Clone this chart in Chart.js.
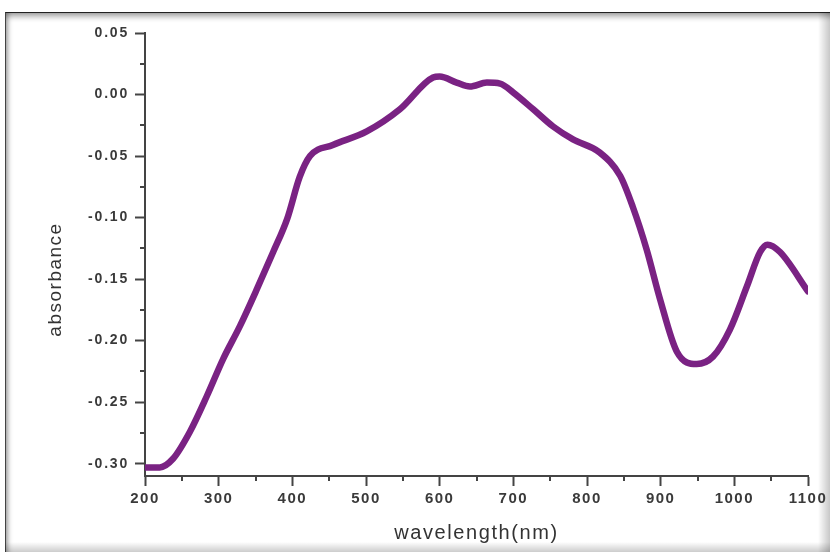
<!DOCTYPE html>
<html>
<head>
<meta charset="utf-8">
<script src="https://cdn.jsdelivr.net/npm/chart.js@4/dist/chart.umd.min.js"></script>
<style>
  html, body { margin:0; padding:0; background:#fff; }
  #wrap { position:relative; width:830px; height:552px; overflow:hidden; background:#fff; }
  #frame { position:absolute; left:5px; top:12px; width:840px; height:560px;
    border-top:1px solid #222; border-left:1px solid #444;
    box-shadow: inset 0 6px 6px -3px rgba(0,0,0,0.4), inset 5px 0 5px -3px rgba(0,0,0,0.35); }
  #rshade { position:absolute; left:818px; top:12px; width:12px; height:540px;
    background: linear-gradient(to right, rgba(0,0,0,0), rgba(0,0,0,0.22)); }
  #bshade { position:absolute; left:5px; top:542px; width:825px; height:10px;
    background: linear-gradient(to bottom, rgba(0,0,0,0), rgba(0,0,0,0.2)); }
  canvas { position:absolute; left:0; top:0; }
</style>
</head>
<body>
<div id="wrap">
  <div id="frame"></div>
  <div id="rshade"></div>
  <div id="bshade"></div>
  <canvas id="c" width="830" height="552"></canvas>
</div>
<script>
const wavelength = [200, 220, 238, 261, 284, 306, 329, 352, 374, 393, 410, 424, 455, 501, 546, 591, 600, 623, 641, 664, 682, 700, 727, 754, 781, 817, 845, 862, 881, 899, 922, 949, 971, 994, 1017, 1035, 1045, 1062, 1100];
const absorbance = [-0.303, -0.303, -0.296, -0.274, -0.245, -0.215, -0.188, -0.158, -0.128, -0.101, -0.067, -0.050, -0.041, -0.030, -0.012, 0.0138, 0.0146, 0.0097, 0.0065, 0.0097, 0.0089, 0.0016, -0.012, -0.026, -0.0365, -0.047, -0.066, -0.091, -0.126, -0.166, -0.209, -0.219, -0.213, -0.191, -0.156, -0.128, -0.122, -0.128, -0.160];
const xTicks = [200, 300, 400, 500, 600, 700, 800, 900, 1000, 1100];
const yTicks = [-0.30, -0.25, -0.20, -0.15, -0.10, -0.05, 0.00, 0.05];
const xMinor = [250, 350, 450, 550, 650, 750, 850, 950, 1050];
const yMinor = [-0.275, -0.225, -0.175, -0.125, -0.075, -0.025, 0.025];

const points = wavelength.map((w, i) => ({x: w, y: absorbance[i]}));
const axisColor = '#444';
const fam = 'Liberation Sans, Arial, sans-serif';

// add letter spacing (and optional title shift) to the library's own drawing of labels/titles
function spaced(scale, labelSpacing, titleSpacing, titleShiftY) {
  if (scale._spacedWrapped) return;
  scale._spacedWrapped = true;
  const dl = scale.drawLabels.bind(scale);
  const dt = scale.drawTitle.bind(scale);
  scale.drawLabels = function (a) {
    const ctx = this.ctx; ctx.save(); ctx.letterSpacing = labelSpacing; dl(a); ctx.restore();
  };
  scale.drawTitle = function (a) {
    const ctx = this.ctx; ctx.save(); ctx.letterSpacing = titleSpacing; ctx.translate(0, titleShiftY); dt(a); ctx.restore();
  };
}

const minorTicks = {
  id: 'minorTicks',
  afterDraw(chart) {
    const {ctx, scales: {x, y}, chartArea} = chart;
    ctx.save();
    ctx.strokeStyle = axisColor;
    ctx.lineWidth = 2;
    ctx.beginPath();
    xMinor.forEach(v => {
      const px = Math.round(x.getPixelForValue(v));
      ctx.moveTo(px, chartArea.bottom);
      ctx.lineTo(px, chartArea.bottom + 5);
    });
    yMinor.forEach(v => {
      const py = Math.round(y.getPixelForValue(v));
      ctx.moveTo(chartArea.left, py);
      ctx.lineTo(chartArea.left - 5, py);
    });
    ctx.stroke();
    ctx.restore();
  }
};

new Chart(document.getElementById('c'), {
  type: 'line',
  data: {
    datasets: [{
      data: points,
      borderColor: '#7a2283',
      borderWidth: 6.5,
      pointRadius: 0,
      fill: false,
      cubicInterpolationMode: 'monotone',
      borderCapStyle: 'round',
      borderJoinStyle: 'round'
    }]
  },
  options: {
    responsive: false,
    animation: false,
    layout: {padding: {left: 0, top: 33, right: 22, bottom: 0}},
    plugins: {legend: {display: false}, tooltip: {enabled: false}},
    scales: {
      x: {
        type: 'linear',
        min: 200, max: 1100,
        afterFit(s) { s.height = 76; },
        afterUpdate(s) { spaced(s, '1.5px', '1.6px', 0); },
        afterBuildTicks(s) { s.ticks = xTicks.map(v => ({value: v})); },
        border: {display: true, color: axisColor, width: 2},
        grid: {display: true, drawOnChartArea: false, drawTicks: true, tickLength: 10, tickColor: axisColor, tickWidth: 2},
        ticks: {font: {family: fam, size: 15, weight: 'bold'}, color: '#3a3a3a', padding: 4, maxRotation: 0, autoSkip: false, callback: v => String(v)},
        title: {display: true, text: 'wavelength(nm)', font: {family: fam, size: 20}, color: '#333', padding: {top: 0, bottom: 7}}
      },
      y: {
        type: 'linear',
        min: -0.31, max: 0.05,
        afterFit(s) { s.width = 145; },
        afterUpdate(s) { spaced(s, '1.8px', '1.5px', 25); },
        afterBuildTicks(s) { s.ticks = yTicks.map(v => ({value: v})); },
        border: {display: true, color: axisColor, width: 2},
        grid: {display: true, drawOnChartArea: false, drawTicks: true, tickLength: 10, tickColor: axisColor, tickWidth: 2},
        ticks: {font: {family: fam, size: 14, weight: 'bold'}, color: '#3a3a3a', padding: 6, autoSkip: false, callback: v => Number(v).toFixed(2)},
        title: {display: true, text: 'absorbance', font: {family: fam, size: 19}, color: '#333', padding: {top: 44, bottom: 0}}
      }
    }
  },
  plugins: [minorTicks]
});
</script>
</body>
</html>
